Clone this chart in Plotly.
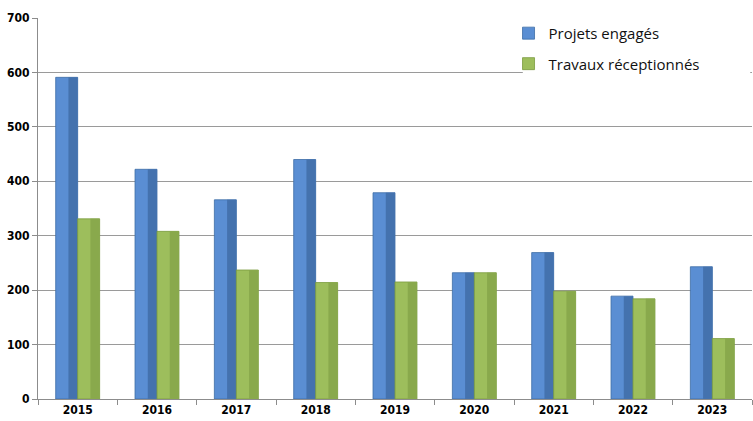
import plotly.graph_objects as go

years = ["2015", "2016", "2017", "2018", "2019", "2020", "2021", "2022", "2023"]
projets = [591, 422, 366, 440, 379, 232, 269, 189, 243]
travaux = [331, 308, 237, 214, 215, 232, 198, 184, 111]
y_ticks = [0, 100, 200, 300, 400, 500, 600, 700]

TICKFONT = dict(size=12, family="Liberation Sans Narrow, DejaVu Sans Condensed, Arial Narrow, Arial",
                weight="bold", color="#000000")

W = 0.277
fig = go.Figure()
fig.add_bar(x=years, y=projets, name="Projets engagés", width=W, offset=-W,
            marker=dict(color="#5A8ED3", line=dict(color="#3E6DA6", width=0.8)),
            legendgroup="a")
fig.add_bar(x=years, y=projets, width=W * 0.42, offset=-W * 0.42, showlegend=False,
            marker=dict(color="#4472AE", line=dict(width=0)), hoverinfo="skip")
fig.add_bar(x=years, y=travaux, name="Travaux réceptionnés", width=W, offset=0,
            marker=dict(color="#9DBE5C", line=dict(color="#7A9A3E", width=0.8)),
            legendgroup="b")
fig.add_bar(x=years, y=travaux, width=W * 0.42, offset=W * 0.58, showlegend=False,
            marker=dict(color="#89A94C", line=dict(width=0)), hoverinfo="skip")

# white legend backdrop (covers the gridlines behind the legend, as in the original)
fig.add_shape(type="rect", xref="paper", yref="paper", x0=0.679, x1=0.9975, y0=0.846, y1=1.05,
              fillcolor="white", line=dict(width=0), layer="above")

fig.update_layout(
    width=753, height=421,
    barmode="overlay",
    margin=dict(l=38, r=1, t=17, b=22),
    paper_bgcolor="white", plot_bgcolor="white",
    font=dict(family="Liberation Sans, Arial", color="#000000"),
    legend=dict(x=0.659, y=1.045, xanchor="left", yanchor="top",
                bgcolor="rgba(0,0,0,0)", borderwidth=0, tracegroupgap=8,
                title=dict(text=" ", font=dict(size=13)),
                font=dict(family="Open Sans, Liberation Sans, Arial", size=15, color="#111111")),
    showlegend=True,
)
fig.update_xaxes(type="category", showline=True, linecolor="#8C8C8C", linewidth=1,
                 ticks="outside", tickson="boundaries", ticklen=5, tickcolor="#8C8C8C",
                 tickfont=TICKFONT, showgrid=False)
fig.update_yaxes(range=[0, 700], tickvals=y_ticks, showline=True, linecolor="#8C8C8C", linewidth=1,
                 ticks="outside", ticklen=5, tickcolor="#8C8C8C",
                 showgrid=True, gridcolor="#9A9A9A", gridwidth=1, zeroline=False,
                 tickfont=TICKFONT)

fig.write_html("out.html", config={"displayModeBar": False},
               post_script="document.body.style.margin='0';document.body.style.padding='0';")
